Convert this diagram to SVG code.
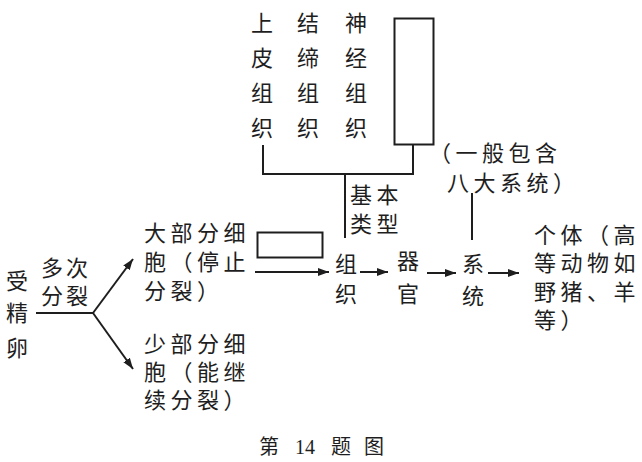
<svg xmlns="http://www.w3.org/2000/svg" width="642" height="462" viewBox="0 0 642 462">
<style>
text{font-family:"Noto Sans CJK SC","Noto Sans",sans-serif;font-size:22px;fill:#1e1e1e;letter-spacing:4.5px}
.ln{fill:none;stroke:#1e1e1e;stroke-width:2}
.box{fill:#fff;stroke:#1e1e1e;stroke-width:2}
.cap{font-family:"Liberation Serif","Noto Sans CJK SC",serif;font-size:20px;letter-spacing:0}
</style>
<defs>
<marker id="ah" markerUnits="userSpaceOnUse" markerWidth="12" markerHeight="10" refX="11" refY="5" orient="auto">
<path d="M0,1 L11,5 L0,9 Z" fill="#1e1e1e"/>
</marker>
</defs>
<rect width="642" height="462" fill="#fff"/>
<g id="connectors">
<path class="ln" d="M36 313 H93"/>
<path class="ln" d="M93 313 L133 259" marker-end="url(#ah)"/>
<path class="ln" d="M93 313 L133 369" marker-end="url(#ah)"/>
<path class="ln" d="M255 272 H329" marker-end="url(#ah)"/>
<path class="ln" d="M360 272 H388" marker-end="url(#ah)"/>
<path class="ln" d="M427 273 H456" marker-end="url(#ah)"/>
<path class="ln" d="M488 273 H519" marker-end="url(#ah)"/>
<path class="ln" d="M263 145 V174 H413 V145"/>
<path class="ln" d="M345 174 V238"/>
<path class="ln" d="M472 193 V240"/>
</g>
<g id="zygote"><text x="6" y="289">受</text><text x="6" y="321">精</text><text x="6" y="356">卵</text></g>
<g id="division"><text x="41" y="276" style="letter-spacing:3px">多次</text><text x="41" y="304" style="letter-spacing:3px">分裂</text></g>
<g id="most-cells"><text x="144" y="241">大部分细</text><text x="144" y="270">胞（停止</text><text x="144" y="299">分裂）</text></g>
<g id="few-cells"><text x="144" y="352">少部分细</text><text x="144" y="380">胞（能继</text><text x="144" y="408">续分裂）</text></g>
<g id="blank-box-1"><rect class="box" x="257.5" y="232.5" width="65" height="25"/></g>
<g id="epithelial"><text x="251" y="31">上</text><text x="251" y="66">皮</text><text x="251" y="101">组</text><text x="251" y="136">织</text></g>
<g id="connective"><text x="297" y="31">结</text><text x="297" y="66">缔</text><text x="297" y="101">组</text><text x="297" y="136">织</text></g>
<g id="nervous"><text x="345" y="31">神</text><text x="345" y="66">经</text><text x="345" y="101">组</text><text x="345" y="136">织</text></g>
<g id="blank-box-2"><rect class="box" x="394.5" y="18.5" width="39" height="126"/></g>
<g id="basic-types"><text x="350" y="203">基本</text><text x="350" y="232">类型</text></g>
<g id="tissue"><text x="335" y="272">组</text><text x="335" y="302">织</text></g>
<g id="organ"><text x="397" y="269">器</text><text x="397" y="302">官</text></g>
<g id="system"><text x="462" y="272">系</text><text x="462" y="304">统</text></g>
<g id="system-note"><text x="429" y="161">（一般包含</text><text x="447" y="191">八大系统）</text></g>
<g id="individual"><text x="534" y="243">个体（高</text><text x="534" y="271">等动物如</text><text x="534" y="300">野猪、羊</text><text x="534" y="328">等）</text></g>
<g id="caption"><text class="cap" x="259" y="454">第</text><text class="cap" x="295" y="454">14</text><text class="cap" x="331" y="454">题</text><text class="cap" x="364" y="454">图</text></g>
</svg>
